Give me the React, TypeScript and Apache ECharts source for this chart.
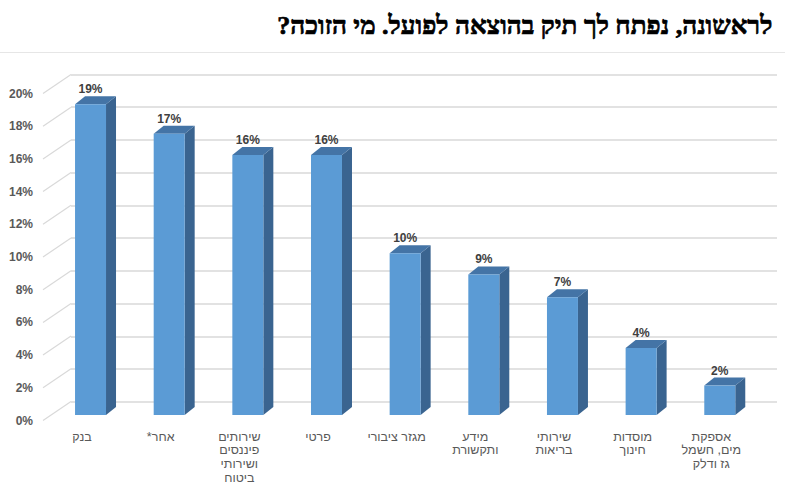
import React, { useEffect, useRef } from "react";
import * as echarts from "echarts";

const titleText = "לראשונה, נפתח לך תיק בהוצאה לפועל. מי הזוכה?\u200F";
const categories = [
  "בנק",
  "אחר*\u200F",
  "שירותים\nפיננסים\nושירותי\nביטוח",
  "פרטי",
  "מגזר ציבורי",
  "מידע\nותקשורת",
  "שירותי\nבריאות",
  "מוסדות\nחינוך",
  "אספקת\nמים, חשמל\nגז ודלק",
];
const values = [19.0, 17.2, 15.9, 15.9, 9.9, 8.6, 7.2, 4.1, 1.8];
const yTicks = [0, 2, 4, 6, 8, 10, 12, 14, 16, 18, 20];

const HEB = "'Liberation Sans', 'DejaVu Sans', sans-serif";

export default function App() {
  const ref = useRef<HTMLDivElement>(null);
  useEffect(() => {
    if (!ref.current) return;
    const chart = echarts.init(ref.current, undefined, { renderer: "svg" });
    const DX = 10;
    const DY = -8;
    const option: any = {
      animation: false,
      backgroundColor: "#ffffff",
      title: {
        text: titleText,
        right: 7,
        top: 7,
        textStyle: {
          fontFamily: "'Liberation Serif', 'DejaVu Serif', serif",
          fontWeight: "bold",
          fontSize: 26,
          color: "#000000",
          textBorderColor: "#000000",
          textBorderWidth: 0.7,
        },
      },
      graphic: [
        {
          type: "rect",
          shape: { x: 0, y: 52, width: 785, height: 1 },
          style: { fill: "#e6e6e6" },
          silent: true,
        },
      ],
      grid: [
        { left: 51.2, right: 25.9, top: 88, bottom: 73 },
        { left: 71, right: 8, top: 74.5, bottom: 86.3 },
        { left: 43, width: 28, top: 93.5, bottom: 67.5 },
      ],
      xAxis: [
        {
          gridIndex: 0,
          type: "category",
          data: categories,
          axisLine: { show: false },
          axisTick: { show: false },
          axisLabel: {
            interval: 0,
            margin: 15,
            fontFamily: HEB,
            fontSize: 12.5,
            lineHeight: 13.6,
            color: "#595959",
            verticalAlign: "top",
            padding: [0, 17, 0, 0],
          },
        },
        { gridIndex: 1, type: "value", min: 0, max: 1, show: false },
        { gridIndex: 2, type: "value", min: 0, max: 1, show: false },
      ],
      yAxis: [
        {
          gridIndex: 0,
          type: "value",
          min: 0,
          max: 20,
          interval: 2,
          show: false,
        },
        {
          gridIndex: 1,
          type: "value",
          min: 0,
          max: 20,
          interval: 2,
          axisLine: { show: false },
          axisTick: { show: false },
          axisLabel: { show: false },
          splitLine: { lineStyle: { color: "#d9d9d9", width: 1.5 } },
        },
        {
          gridIndex: 2,
          type: "value",
          min: 0,
          max: 20,
          interval: 2,
          axisLine: { show: false },
          axisTick: { show: false },
          splitLine: { show: false },
          axisLabel: {
            margin: 10,
            formatter: "{value}%",
            fontFamily: HEB,
            fontWeight: "bold",
            fontSize: 12,
            color: "#595959",
          },
        },
      ],
      series: [
        {
          type: "custom",
          xAxisIndex: 2,
          yAxisIndex: 2,
          silent: true,
          data: yTicks.map((t) => [0, t]),
          renderItem: (params: any, api: any) => {
            const p = api.coord([0, api.value(1)]);
            return {
              type: "line",
              shape: { x1: p[0], y1: p[1], x2: p[0] + 28, y2: p[1] - 19 },
              style: { stroke: "#d9d9d9", lineWidth: 1.2 },
            };
          },
        },
        {
          type: "custom",
          xAxisIndex: 0,
          yAxisIndex: 0,
          data: values.map((v, i) => [i, v]),
          renderItem: (params: any, api: any) => {
            const idx = api.value(0);
            const v = api.value(1);
            const base = api.coord([idx, 0]);
            const top = api.coord([idx, v]);
            const bw = api.size([1, 0])[0] * 0.394;
            const l = base[0] - bw / 2;
            const r = base[0] + bw / 2;
            const t = top[1];
            const b = base[1];
            return {
              type: "group",
              children: [
                {
                  type: "polygon",
                  shape: {
                    points: [
                      [r, t],
                      [r + DX, t + DY],
                      [r + DX, b + DY],
                      [r, b],
                    ],
                  },
                  style: { fill: "#3a6490" },
                },
                {
                  type: "polygon",
                  shape: {
                    points: [
                      [l, t],
                      [l + DX, t + DY],
                      [r + DX, t + DY],
                      [r, t],
                    ],
                  },
                  style: { fill: "#4474a6" },
                },
                {
                  type: "rect",
                  shape: { x: l, y: t, width: bw, height: b - t },
                  style: { fill: "#5b9bd5" },
                },
                {
                  type: "text",
                  x: base[0],
                  y: t - 15,
                  style: {
                    text: Math.round(v) + "%",
                    align: "center",
                    verticalAlign: "middle",
                    fontFamily: HEB,
                    fontWeight: "bold",
                    fontSize: 12,
                    fill: "#404040",
                  },
                },
              ],
            };
          },
        },
      ],
    };
    chart.setOption(option);
    return () => chart.dispose();
  }, []);
  return (
    <div
      ref={ref}
      style={{ position: "fixed", left: 0, top: 0, width: 785, height: 488 }}
    />
  );
}
